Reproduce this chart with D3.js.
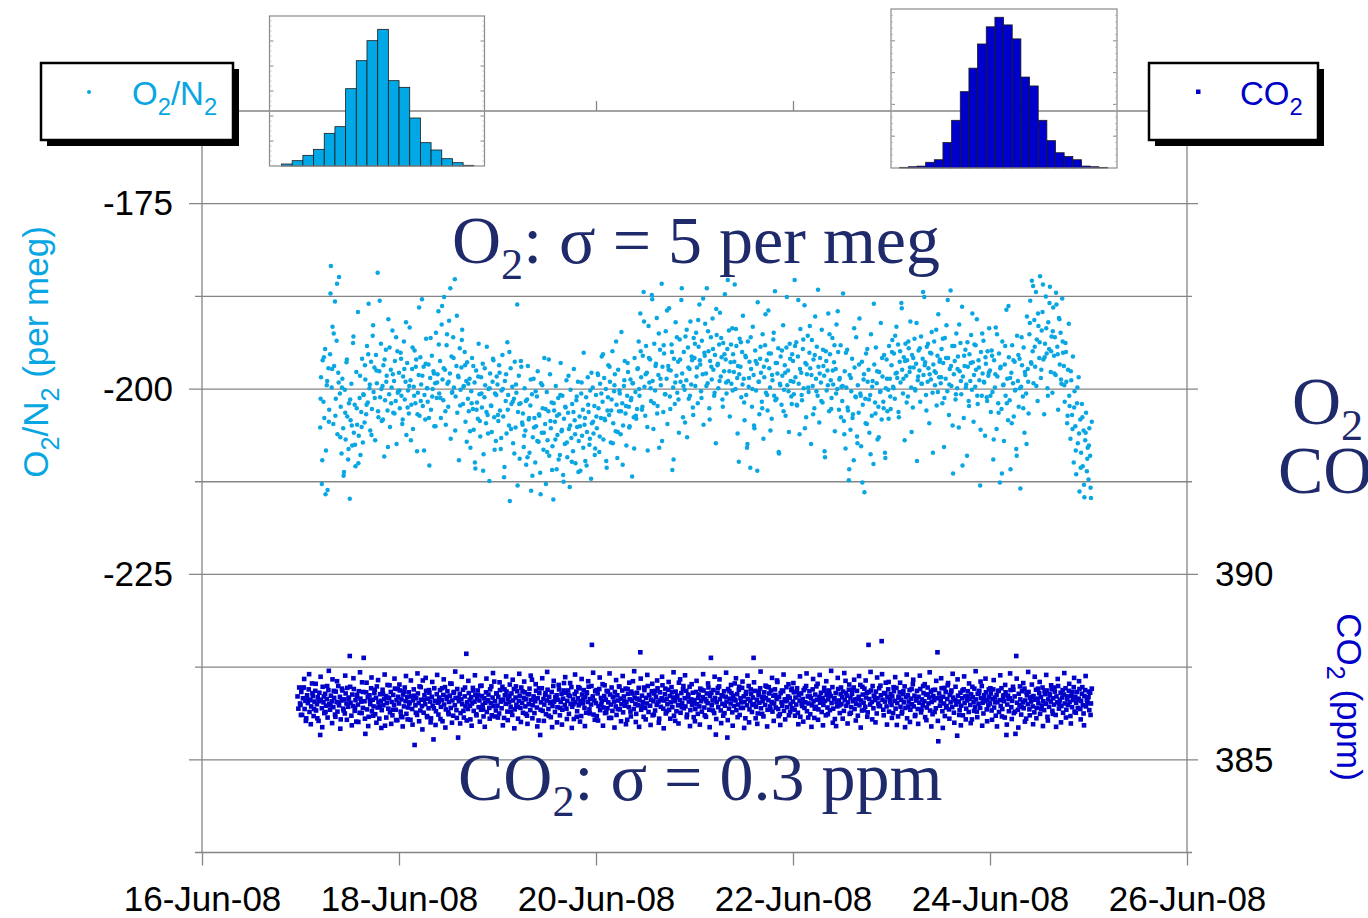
<!DOCTYPE html>
<html>
<head>
<meta charset="utf-8">
<script src="https://cdn.jsdelivr.net/npm/d3@7"></script>
<style>
  html, body { margin: 0; padding: 0; background: #fff; overflow: hidden; }
  svg { display: block; }
</style>
</head>
<body>
<div id="chart"></div>
<script>
// ---- data ----
// main samples every 12 min, extra samples every 24 min offset by 6 min
const o2Jun17 = [-205.2,-198.4,-212.8,-196.1,-201.7,-203.9,-194.6,-208.3,-199.5,-213.6,-197.2,-202.8,
  -195.3,-183.4,-199.8,-191.6,-204.7,-196.9,-188.2,-201.3,-193.5,-206.1,-197.8,-184.9,-200.6,
  -202.4,-208.7,-198.6,-205.3,-211.2,-200.1,-206.8,-196.4,-203.7,-209.5,-201.9,-214.8,-204.2,-199.3,-207.6,
  -193.8,-205.9,-202.1,-210.4,-197.7,-204.8,-189.6,-206.3,-201.2,-208.9,-203.1,-195.9,-207.2,-200.8,-204.5,
  -198.7,-203.4,-194.2,-201.8,-188.5,-199.9,-205.6,-196.3,-202.7,-192.8,-200.4,-197.1,-206.9,-195.4,-199.2,
  -184.3,-203.8,-197.6,-201.1,-193.9,-204.3,-199.6,-196.8,-209.1,-201.5,-194.7,-198.2,-202.9,-190.6,-200.7,
  -205.1,-197.4,-199.8,-192.1,-203.2,-198.9,-196.2,-201.6,-207.4,-194.9,-200.3];
const o2Jun18 = [-197.8,-202.6,-195.1,-200.9,-204.7,-198.3,-193.6,-201.4,-199.0,-206.2,-196.5,-200.2,
  -203.3,-191.7,-198.8,-202.1,-197.3,-205.4,-199.7,-194.8,-201.9,-196.0,-208.4,-200.5,-198.1,-203.6,-195.7,
  -199.4,-187.9,-202.3,-197.0,-200.8,-204.1,-193.2,-199.9,-201.7,-196.7,-210.3,-198.5,-202.8,-195.5,-200.0,
  -197.6,-205.0,-199.2,-192.4,-201.2,-198.0,
  -189.5,-200.6,-196.2,-203.9,-191.3,-198.7,-201.5,-187.6,-197.4,-204.8,-194.1,-199.3,-202.4,-190.8,-197.9,
  -206.7,-195.6,-200.4,-193.0,-199.8,-185.2,-201.0,-196.9,-203.2,-198.2,-209.6,-194.5,-200.1,-197.1,-192.0,
  -202.0,-199.6,-195.0,-204.4,-198.9,-196.4,-201.3,
  -203.0,-198.6,-207.9,-200.3,-195.8,-202.7,-205.5,-199.1,-210.7,-197.5,-201.8,-204.0,-193.9,-200.7,-206.4,
  -198.4,-202.5,-196.6,-208.8,-201.1,-199.5,-204.6,-194.3,-203.5,-200.0,-212.4,-197.9,-202.2,-205.8,-199.0,
  -196.1,-203.8,-200.6,-207.0,-198.3];
const o2Jun19 = [-199.4,-204.3,-196.8,-202.9,-208.1,-200.2,-195.4,-203.7,-211.9,-198.9,-201.6,-206.0,
  -193.7,-200.8,-204.9,-215.1,-197.2,-202.0,-199.7,-207.3,-201.3,-196.3,-205.2,-200.5,-188.6,-203.1,-198.2,
  -209.4,-201.9,-197.0,-204.5,
  -203.3,-207.8,-199.9,-205.6,-210.2,-201.4,-196.9,-204.1,-208.6,-202.2,-213.7,-200.7,-206.5,-198.6,-203.9,
  -209.9,-205.0,-201.0,-197.6,-207.1,-203.6,-211.3,-199.2,-205.9,-202.6,-208.2,-195.8,-204.7,-212.8,-200.4,
  -206.9,-203.0,-209.0,-198.0,-205.3,-201.8,-207.7,-214.9,-202.9,-204.4,-199.6,-210.8,-206.2,-201.2,-203.4,
  -208.9,-196.5,-205.7,-200.9,-211.6,-204.0,-207.4,-202.5,-198.8,-209.2,-203.2,-205.4,-213.2,-200.1,-206.6,
  -202.0,-208.4,-197.3,-204.2,-210.0,-201.5,-205.1,-199.0,-207.0,-203.7,-211.0,-200.6,-206.3,-202.8,-195.1,
  -204.8,-209.7,-201.1,-205.8,-198.4,-203.1,-207.5,-200.2,-212.1,-204.6,-199.8,-206.0,-202.3,-208.0];
const o2Jun20 = [-200.8,-205.3,-197.9,-202.6,-208.5,-199.3,-203.9,-195.6,-201.7,-206.8,-198.5,-204.2,
  -200.0,-210.6,-202.9,-196.8,-203.5,-199.0,-207.2,-201.4,-194.9,-204.6,-200.3,-198.0,-205.7,-202.1,-209.3,
  -197.4,-203.0,-200.6,-206.1,-192.3,-201.9,-204.9,-199.6,-196.2,-203.3,-207.6,-200.9,-197.7,-202.4,-205.0,
  -198.7,-201.2,-211.8,-199.2,-203.8,-195.8,-200.4,-204.0,-202.7,
  -197.2,-193.6,-200.9,-189.8,-198.4,-202.8,-195.5,-186.9,-199.7,-203.6,-194.2,-197.8,-208.3,-191.5,-199.1,
  -196.0,-201.6,-187.3,-198.9,-205.4,-193.9,-200.2,-196.6,-190.4,-202.3,-198.1,-207.9,-194.7,-199.5,-185.8,
  -197.0,-203.1,-195.2,-200.7,-192.2,-198.6,-204.7,-196.9,-189.1,-201.0,-197.5,-194.0,-210.9,-199.8,-195.9,
  -202.0,-191.0,-198.2,-200.5,-196.3,-205.9,-193.3,-199.0,-188.0,-197.9,-203.8,-195.0,-200.1,-192.9,-198.8,
  -206.5,-194.4,-201.3,-197.3,-190.9,-199.4,-196.1,-202.5,-193.1];
const o2Jun21 = [-195.8,-199.6,-192.4,-197.1,-201.9,-194.3,-188.6,-196.7,-200.3,-193.5,-198.0,-204.8,
  -195.1,-191.2,-197.9,-186.4,-199.2,-194.9,-202.6,-196.2,-193.0,-198.7,-190.5,-197.4,-200.9,-195.4,-207.3,
  -192.7,-196.8,-199.9,-194.0,-189.7,-198.3,-195.7,-201.4,-193.8,-197.6,-187.2,-196.0,-200.6,-194.6,-198.9,
  -192.1,-203.7,-196.4,-199.3,-191.8,-195.3,-197.7,-185.9,-200.0,-194.2,-198.5,-196.9,-209.8,-193.2,-197.0,
  -201.1,-195.0,-190.1,
  -198.6,-204.2,-195.5,-200.8,-207.9,-193.6,-199.7,-196.3,-210.6,-197.3,-202.4,-191.6,-198.1,-205.3,-194.8,
  -200.2,-196.6,-188.3,-199.0,-203.4,-195.9,-197.8,-201.7,-192.6,-206.7,-198.4,-194.1,-200.5,-196.1,-202.9,
  -189.4,-197.2,-199.8,-195.2,-204.0,-198.8,-193.3,-200.9,-186.8,-196.5,-201.3,-197.9,-194.5,-208.7,-199.3,
  -195.6,-202.1,-198.2,-191.4,-200.1,-196.8,-203.6,-194.4,-199.5,-197.5,-205.8,-193.9,-198.9,-201.0,-195.3];
const o2Jun22 = [-196.2,-200.7,-185.3,-198.4,-193.7,-202.2,-195.6,-199.3,-206.1,-191.9,-197.8,-201.5,
  -194.6,-199.9,-188.7,-196.5,-203.8,-198.0,-192.8,-200.4,-195.1,-197.2,-207.4,-193.4,-199.6,-196.0,-202.6,
  -190.2,-198.6,-194.3,-200.9,-197.0,-204.5,-195.8,-199.1,-192.0,-201.8,-196.9,-198.2,-209.2,-194.9,-200.2,
  -197.5,-189.8,-203.0,-195.3,-198.8,-201.2,-193.1,-199.4,-196.4,-205.7,-197.3,-191.3,-200.0,-195.0,-202.8,
  -198.5,-194.1,-199.7,
  -201.6,-187.1,-204.3,-197.6,-208.0,-199.8,-194.7,-202.9,-212.3,-198.1,-205.5,-200.3,-195.9,-203.4,-209.6,
  -197.1,-201.0,-193.0,-206.4,-199.5,-203.2,-190.5,-200.6,-207.7,-196.3,-202.1,-198.7,-213.9,-201.3,-195.2,
  -204.7,-199.0,-197.4,-205.9,-200.8,-192.6,-203.6,-198.9,-210.1,-196.7,-201.8,-194.4,-199.2,-206.8,-202.4,
  -197.7,-200.4,-191.1,-204.1,-198.3,-201.7,-195.4,-208.6,-199.9,-196.0,-203.0,-200.1,-194.2,-198.6,-202.7];
const o2Jun23 = [-196.8,-193.4,-199.7,-195.2,-201.3,-197.9,-191.6,-198.5,-194.0,-203.8,-196.3,-199.1,
  -188.4,-197.4,-200.6,-195.7,-206.9,-193.9,-198.2,-196.1,-201.0,-194.5,-197.7,-190.9,-199.8,-195.4,-202.5,
  -197.1,-193.2,-200.2,-196.6,-209.7,-198.8,-194.8,-197.5,-201.7,-192.9,-199.3,-195.9,-198.1,-187.6,-196.4,
  -200.8,-194.3,-199.0,-197.2,-204.6,-195.1,-198.7,-192.3,-200.5,-196.7,-193.6,-199.5,-197.8,-202.2,-195.5,
  -189.9,-198.4,-196.0,
  -199.2,-194.6,-201.9,-196.5,-207.8,-193.1,-198.6,-191.4,-200.3,-195.8,-203.5,-197.3,-186.7,-199.6,-194.2,
  -211.4,-198.0,-196.2,-201.4,-192.5,-199.9,-195.6,-205.2,-197.6,-193.8,-200.7,-188.9,-198.3,-203.9,-196.9,
  -194.7,-199.4,-209.0,-197.0,-201.6,-195.3,-198.9,-192.7,-200.1,-196.4,-204.4,-194.0,-199.7,-197.4,-190.6,
  -202.0,-196.1,-198.8,-213.0,-195.0,-200.9,-197.9,-193.5,-199.1,-206.3,-196.6,-201.1,-194.9,-198.2,-191.8];
const o2Jun24 = [-197.5,-203.1,-194.8,-200.4,-209.5,-196.1,-199.8,-191.7,-205.4,-198.3,-201.9,-195.2,
  -212.6,-197.0,-202.7,-193.6,-199.5,-207.0,-196.7,-200.9,-189.3,-198.6,-204.2,-195.7,-201.5,-210.8,-197.8,
  -194.1,-199.2,-203.7,-196.3,-200.1,-208.1,-192.8,-198.9,-202.4,-195.9,-213.4,-199.7,-196.8,-201.0,-194.4,
  -205.9,-198.1,-200.6,-190.2,-197.3,-203.3,
  -192.6,-188.1,-196.4,-185.4,-194.9,-199.2,-190.7,-197.0,-186.9,-193.3,-201.6,-191.5,-195.8,-184.8,-198.5,
  -192.1,-189.6,-196.0,-203.4,-193.9,-187.5,-195.2,-199.9,-191.0,-194.6,-186.2,-197.7,-192.9,-200.5,-189.0,
  -195.5,-193.0,-198.1,-188.6,-194.3,-202.8,-190.4,-196.7,-192.4,-199.3,-187.8,-195.1,
  -196.9,-201.7,-193.8,-199.0,-204.6,-197.4,-191.2,-202.3,-206.7,-198.8,-203.5,-195.6,-209.9,-200.3,-205.0,
  -211.5,-201.9,-207.3,-198.4,-213.8,-204.1,-208.6,-202.0,-210.4,-205.6,-214.6,-206.9,-203.2,-211.1,-207.9];
const o2Jun25 = [-212.2,-205.3,-209.0,-214.7,-204.4];

const o2Jun17b = [-201.3,-209.6,-195.7,-214.2,-198.9,-204.4,-187.1,-197.3,-192.5,-203.6,-185.8,-199.1,
  -206.5,-199.8,-211.7,-203.2,-196.0,-208.1,-201.4,-204.9,-192.9,-207.5,-202.6,-210.0,-198.2,-205.1,-200.7,-196.8,
  -202.1,-195.3,-199.4,-206.2,-191.4,-201.2,-197.5,-203.0,-188.1,-200.0,-204.1,-196.0,-199.0,-207.8,-194.4,
  -201.9,-198.0,-203.3,-193.0,-200.5];
const o2Jun18b = [-200.2,-195.9,-204.1,-197.3,-191.0,-202.5,-199.6,-206.9,-194.4,-200.9,-197.0,-203.4,
  -189.0,-201.6,-198.2,-208.3,-196.6,-199.9,-203.9,-193.1,-201.0,-197.9,-205.0,-199.1,
  -194.0,-201.2,-188.8,-197.2,-203.0,-192.6,-199.0,-186.4,-200.5,-195.8,-205.6,-190.1,-198.4,-202.2,-193.4,
  -199.7,-196.8,-207.1,
  -199.3,-205.7,-201.9,-196.9,-209.9,-202.8,-198.3,-204.3,-200.6,-211.0,-197.2,-203.1,-206.0,-199.9,-202.3,
  -195.9,-208.2,-200.8];
const o2Jun19b = [-203.5,-197.8,-206.6,-200.0,-210.5,-198.0,-202.8,-195.0,-205.4,-201.7,-208.7,-199.4,
  -213.0,-202.0,-196.2,-204.8,
  -206.3,-201.6,-209.2,-203.9,-198.7,-211.7,-205.2,-200.3,-207.0,-203.4,-214.2,-199.5,-205.9,-202.7,-208.5,
  -196.0,-204.3,-210.9,-201.9,-206.8,-203.6,-209.5,-200.8,-205.5,-212.5,-202.4,-207.2,-198.2,-204.9,-209.8,
  -203.1,-206.1,-201.0,-211.2,-205.0,-199.1,-207.9,-203.9,-210.3,-202.1,-206.7,-197.8,-204.4,-208.9];
const o2Jun20b = [-203.7,-198.1,-206.4,-200.6,-195.3,-204.0,-209.7,-201.1,-197.0,-202.9,-207.3,-199.5,
  -193.6,-205.8,-200.2,-203.0,-210.2,-198.8,-202.3,-196.5,-205.2,-201.5,-199.2,-208.0,-203.6,-197.3,
  -200.0,-194.9,-202.4,-190.9,-198.0,-205.1,-195.8,-199.9,-187.9,-201.9,-196.9,-203.3,-192.5,-198.6,-207.0,
  -194.1,-200.7,-189.4,-197.4,-202.7,-195.0,-209.5,-199.1,-193.0,-201.4,-196.0,-186.4,-199.6,-204.5,-192.0,
  -197.1,-200.9,-195.6,-203.5];
const o2Jun21b = [-193.9,-198.3,-190.7,-196.1,-201.2,-187.8,-195.5,-199.6,-192.2,-204.1,-197.0,-194.6,
  -200.5,-189.2,-196.6,-198.9,-193.1,-202.4,-195.3,-199.1,-185.3,-197.6,-194.0,-200.2,-196.3,-191.9,-206.0,
  -198.0,-193.7,-199.4,
  -201.8,-195.7,-207.4,-198.5,-193.0,-200.0,-204.9,-196.2,-211.0,-199.0,-194.3,-202.6,-197.0,-189.9,-200.8,
  -195.2,-205.6,-198.1,-192.4,-201.5,-196.5,-208.5,-199.5,-194.8,-203.0,-197.8,-187.6,-200.3,-195.9,-202.0];
const o2Jun22b = [-199.0,-194.2,-202.1,-188.0,-197.3,-200.8,-193.3,-205.3,-196.7,-199.8,-191.5,-198.1,
  -203.4,-195.4,-200.3,-186.6,-197.9,-201.6,-194.7,-208.4,-196.2,-199.5,-192.6,-202.7,-197.5,-194.1,-200.6,
  -189.5,-198.7,-203.8,
  -199.6,-206.1,-195.1,-202.5,-210.8,-198.5,-203.9,-191.8,-201.1,-207.3,-196.7,-200.9,-212.6,-198.0,-204.6,
  -194.6,-201.4,-208.8,-199.7,-188.5,-203.3,-197.6,-206.5,-200.3,-195.8,-202.6,-209.3,-198.6,-204.0,-201.0];
const o2Jun23b = [-195.0,-199.9,-192.8,-197.8,-203.1,-194.9,-189.1,-198.6,-196.2,-201.8,-193.6,-197.1,
  -205.8,-195.8,-200.0,-191.1,-198.3,-194.5,-199.3,-186.9,-196.8,-202.9,-193.9,-198.0,-195.2,-208.6,-197.6,
  -192.0,-200.4,-196.3,
  -198.4,-193.2,-201.2,-195.8,-188.0,-199.4,-196.9,-204.9,-194.2,-200.7,-197.3,-191.3,-198.9,-210.3,-195.5,
  -199.8,-193.7,-202.3,-196.5,-189.8,-198.1,-194.1,-200.9,-197.1,-205.5,-192.5,-199.0,-195.7,-201.6,-197.8];
const o2Jun24b = [-200.9,-195.5,-206.8,-198.0,-192.6,-203.2,-197.2,-211.4,-199.4,-194.2,-201.9,-188.8,
  -198.5,-204.6,-196.1,-200.2,-209.0,-195.4,-199.9,-193.0,-202.6,-197.7,-207.4,-199.0,
  -191.1,-196.6,-186.1,-194.3,-199.6,-189.8,-193.7,-197.4,-185.9,-195.7,-191.8,-200.9,-188.4,-194.9,-192.2,
  -197.9,-187.0,-195.3,-190.6,-198.7,-193.6,
  -199.5,-195.0,-203.6,-200.9,-197.6,-205.4,-202.5,-208.3,-199.8,-206.0,-210.6,-203.8,-212.9,-205.9,-209.4];
const o2Jun25b = [-207.6,-213.3];

const co2Jun16 = [386.71,386.38,386.95,386.52];
const co2Jun17 = [386.48,386.83,386.21,386.66,386.95,386.37,386.59,386.12,386.74,386.53,386.90,386.29,
  386.61,386.44,387.06,386.72,386.18,386.57,386.86,386.33,386.50,386.69,386.05,386.81,
  385.67,386.62,386.39,386.97,386.55,386.26,386.78,386.46,386.64,386.14,386.88,386.51,
  386.35,386.73,386.58,387.17,386.42,386.67,386.22,386.84,386.56,386.30,386.99,386.47,
  386.70,386.09,386.60,386.87,386.38,386.63,386.25,386.79,386.52,386.94,386.43,386.68,
  387.80,386.54,386.19,386.76,386.45,386.91,386.32,386.61,386.03,386.71,386.49,386.85,
  386.27,386.65,386.57,387.09,386.40,387.75,386.58,385.70,386.82,386.36,386.69,386.16,
  386.74,386.50,386.93,386.31,386.62,386.44,386.80,386.23,386.67,386.98,386.41,386.55,
  386.11,386.77,386.59,386.34,386.89,386.47,386.64,385.92,386.72,386.53,387.02,386.38,
  386.66,386.28,386.83,386.56,386.20,386.75,386.48,386.92,386.35,386.61,386.07,386.70];
const co2Jun18 = [386.52,386.87,386.30,386.63,386.15,386.76,386.44,386.95,386.58,386.24,386.69,386.41,
  386.82,386.55,386.08,386.71,386.37,386.60,386.90,385.40,386.47,386.66,386.21,386.79,
  386.53,386.98,386.33,386.62,386.45,387.14,386.27,386.74,386.50,386.86,386.18,386.65,
  386.39,386.81,386.57,386.12,386.70,386.46,385.55,386.93,386.59,386.31,386.77,386.54,
  386.22,386.68,386.88,386.43,386.61,386.04,386.75,386.49,386.96,386.36,386.64,386.85,
  386.28,386.56,386.73,386.40,387.05,386.60,386.19,386.83,386.47,386.67,386.34,386.91,
  385.60,386.58,386.78,386.26,386.63,386.50,386.89,386.14,386.71,386.44,387.86,386.55,
  386.37,386.80,386.62,386.09,386.69,386.52,386.94,386.32,386.57,386.75,386.23,386.65,
  386.87,386.42,386.60,386.99,386.35,386.72,386.48,386.17,386.66,386.54,386.82,386.29,
  386.61,386.76,386.40,386.90,386.53,386.20,386.68,386.45,387.11,386.58,386.33,386.79];
const co2Jun19 = [386.46,386.70,386.25,386.88,386.57,386.39,386.97,386.62,386.13,386.74,386.51,386.84,
  386.30,386.65,386.55,387.03,386.43,386.79,386.21,386.60,386.91,386.36,386.68,386.48,
  386.85,386.11,386.59,386.73,386.40,386.95,386.54,386.27,386.67,386.82,386.44,386.63,
  386.19,386.77,386.50,386.92,386.34,386.61,387.16,386.47,386.71,386.26,386.58,386.86,
  386.41,386.66,386.06,386.80,385.67,386.55,386.93,386.32,386.64,386.49,386.75,386.23,
  386.60,386.89,386.37,386.70,386.53,386.15,386.83,386.45,386.99,386.57,386.29,386.68,
  386.74,386.42,386.62,386.90,386.20,386.56,386.78,386.35,386.65,387.07,386.48,386.81,
  386.38,386.59,386.87,386.24,386.72,386.51,386.96,386.43,386.63,386.10,386.77,386.55,
  386.84,386.31,386.66,386.47,386.93,386.58,386.18,386.76,386.52,386.88,386.40,386.69,
  386.27,386.80,386.56,386.97,386.36,386.64,386.49,388.10,386.71,386.22,386.60,386.85];
const co2Jun20 = [386.53,386.18,386.79,386.45,386.91,386.34,386.67,386.58,387.04,386.41,386.72,386.26,
  386.62,386.86,386.39,386.55,386.13,386.76,386.49,386.95,386.32,386.69,386.57,386.83,
  386.44,386.21,386.74,386.60,386.98,386.36,386.65,386.50,386.87,386.28,386.71,386.46,
  386.92,386.55,386.08,386.78,386.42,386.63,386.30,386.84,386.59,387.12,386.37,386.68,
  386.51,386.24,386.81,386.47,386.94,386.61,387.90,386.35,386.73,386.56,386.16,386.88,
  386.40,386.67,386.52,386.99,386.29,386.75,386.46,386.62,386.85,386.20,386.58,386.79,
  386.33,386.70,386.48,386.93,386.57,386.11,386.82,386.43,386.66,387.01,386.38,386.60,
  386.77,386.25,386.64,386.50,386.89,386.35,386.72,386.55,386.96,386.42,386.68,386.19,
  386.58,386.84,386.31,386.73,386.47,387.08,386.61,386.27,386.80,386.53,386.90,386.39,
  386.66,386.44,386.86,386.22,386.70,386.57,386.97,386.34,386.63,386.48,386.81,386.15];
const co2Jun21 = [386.61,386.37,386.83,386.50,386.24,386.76,386.44,386.92,386.58,386.30,386.69,386.87,
  386.41,386.64,386.16,386.79,386.53,386.95,386.35,386.72,387.75,386.47,386.60,386.88,
  386.26,386.67,385.68,386.55,386.81,386.42,386.98,386.63,386.33,386.74,386.51,386.19,
  386.85,386.46,386.70,386.57,385.60,386.91,386.38,386.65,386.52,386.80,386.28,386.73,
  386.45,387.06,386.60,386.34,386.77,386.49,386.89,386.21,386.66,386.55,386.94,386.40,
  386.71,386.56,386.12,386.83,386.47,386.64,386.99,386.36,386.59,386.78,386.29,386.68,
  387.75,386.50,386.86,386.43,386.62,386.25,386.75,386.54,386.93,386.39,386.70,386.58,
  386.17,386.82,386.48,386.66,386.97,386.35,386.61,386.79,386.44,386.87,386.56,386.30,
  386.73,386.52,386.90,386.41,386.64,387.10,386.37,386.69,386.23,386.80,386.55,386.46,
  386.85,386.32,386.63,386.58,386.96,386.42,386.71,386.20,386.67,386.51,386.88,386.39];
const co2Jun22 = [386.57,386.82,386.35,386.68,386.49,386.93,386.27,386.74,386.60,386.16,386.79,386.45,
  386.64,386.88,386.40,386.55,386.99,386.31,386.71,386.52,386.85,386.23,386.66,386.47,
  386.90,386.58,386.13,386.76,386.43,386.62,387.05,386.36,386.70,386.54,386.81,386.29,
  386.67,386.48,386.94,386.59,386.20,386.75,386.41,386.63,386.87,386.34,386.72,386.53,
  386.96,386.38,386.65,386.10,386.80,386.56,386.44,386.91,386.60,386.26,386.77,386.50,
  386.69,386.84,386.32,386.61,387.13,386.46,386.73,386.55,386.89,386.24,386.67,386.42,
  386.78,386.58,386.95,386.37,386.63,386.51,386.86,386.19,386.70,386.47,387.02,386.60,
  386.33,386.76,386.54,386.92,386.43,386.68,386.81,386.28,388.10,386.64,386.49,386.87,
  386.56,386.99,386.39,386.72,386.61,386.84,386.25,386.66,386.52,386.93,386.45,386.74,
  388.20,386.62,386.35,386.80,386.57,387.08,386.44,386.69,386.90,386.30,386.63,386.77];
const co2Jun23 = [386.48,386.71,386.26,386.85,386.59,386.38,386.94,386.53,386.17,386.67,386.82,386.43,
  386.62,386.30,386.77,386.55,386.98,386.40,386.69,386.12,386.74,386.57,386.88,386.35,
  386.65,386.50,387.04,386.44,386.73,386.21,386.60,386.86,386.37,386.70,386.54,386.91,
  386.28,386.63,386.47,386.80,386.58,386.15,386.76,386.41,386.95,386.52,386.68,386.33,
  386.84,386.56,386.23,386.72,386.61,386.89,386.39,386.66,387.90,385.50,386.79,386.46,
  386.58,386.93,386.31,386.70,386.52,386.18,386.83,386.45,386.64,387.07,386.36,386.75,
  386.55,386.87,386.42,386.68,386.27,386.61,386.97,386.49,385.65,386.73,386.57,386.34,
  386.81,386.46,386.66,386.20,386.90,386.53,386.71,386.38,386.60,386.85,386.29,386.64,
  386.48,386.77,386.09,386.69,386.56,386.92,386.43,386.63,386.30,386.78,386.51,386.86,
  386.40,386.67,386.99,386.54,386.25,386.74,386.58,386.82,386.36,386.61,386.47,386.70];
const co2Jun24 = [386.52,386.79,386.33,386.64,386.90,386.41,386.68,386.19,386.75,386.56,386.86,386.29,
  386.61,386.45,386.93,386.37,386.70,386.58,386.14,386.82,385.67,386.49,386.73,386.31,
  386.66,386.88,386.42,386.59,386.97,386.26,386.71,385.70,387.80,386.54,386.35,386.78,
  386.47,386.63,386.22,386.85,386.55,386.39,386.92,386.60,386.11,386.74,386.50,386.83,
  386.36,386.67,386.57,387.03,386.44,386.72,386.28,386.62,386.89,386.40,386.65,386.53,
  386.80,386.24,386.69,386.46,386.95,386.58,386.34,386.77,386.51,386.87,386.16,386.63,
  386.43,386.74,386.57,386.90,386.32,386.66,386.49,386.84,386.21,386.71,386.55,386.99,
  386.38,386.62,386.81,386.45,386.68,386.27,386.76,386.52,386.93,386.35,386.64,386.48,
  386.86,386.56,386.18,386.73,386.42,386.61,386.96,386.30,386.70,386.54,386.83,386.40,
  386.65,386.91,386.37,386.59,386.78,386.47,386.25,386.72,386.88,386.44,386.62,386.53];
const co2Jun25 = [386.69,386.34,386.81,386.52,386.92];

const co2Jun17b = [386.21,386.94,387.18,386.05,386.63,387.31,385.96,386.80,386.37,387.05,386.12,386.58,
  387.24,385.88,386.71,386.29,386.99,387.40,386.47,385.99,386.86,386.16,387.12,386.54,385.84,386.92,
  386.33,387.27,386.08,386.65,386.97,385.93,387.20,386.41,386.75,386.02,387.36,386.26,386.83,386.11,
  387.08,385.91,386.60,387.22,386.19,386.89,386.00,387.15,386.44,385.86,386.78,387.30,386.14,386.68,
  387.01,385.97,386.35,387.19,386.07,386.91];
const co2Jun18b = [387.03,386.18,385.90,386.84,387.26,386.09,386.52,387.14,385.95,386.73,386.27,387.33,
  386.04,386.96,385.82,386.62,387.21,386.15,386.88,386.01,387.10,386.39,385.94,387.29,386.57,386.10,
  386.93,387.17,385.87,386.70,386.23,387.06,386.00,386.81,387.38,386.13,386.66,385.98,387.24,386.32,
  386.95,386.06,387.13,386.46,385.92,386.87,387.28,386.20,386.74,386.03,387.00,386.36,385.89,387.19,
  386.58,386.11,386.98,387.34,386.17,386.79];
const co2Jun19b = [386.14,387.09,386.61,385.93,386.90,387.25,386.07,386.72,386.30,387.16,385.85,386.98,
  386.43,387.32,386.02,386.85,387.11,386.24,385.97,386.77,387.27,386.12,386.64,387.04,385.90,386.93,
  386.35,387.20,386.05,386.80,387.37,386.19,386.56,385.88,387.13,386.69,386.01,387.02,386.40,385.95,
  386.87,387.23,386.10,386.75,387.07,385.86,386.50,387.30,386.16,386.96,386.03,387.18,386.63,385.91,
  386.82,387.12,386.25,386.99,387.35,386.08];
const co2Jun20b = [386.88,386.06,387.22,386.49,385.92,387.01,386.28,386.84,387.33,386.13,386.70,385.87,
  387.15,386.37,386.97,386.04,387.26,386.59,385.96,386.91,387.08,386.17,386.79,387.39,386.02,386.65,
  385.89,387.19,386.45,386.95,386.09,387.29,386.74,385.94,387.05,386.22,386.86,387.14,386.00,386.61,
  387.24,385.85,386.92,386.31,387.10,386.11,386.82,387.36,386.05,386.68,385.98,387.17,386.42,386.99,
  387.28,386.15,386.76,385.91,387.04,386.53];
const co2Jun21b = [386.04,387.13,386.67,385.95,386.89,387.31,386.20,386.58,387.06,385.88,386.81,386.33,
  387.24,386.10,386.94,387.17,385.99,386.72,386.26,387.35,386.07,386.85,387.02,385.92,386.63,387.20,
  386.15,386.97,386.40,387.11,385.86,386.78,387.27,386.01,386.90,386.48,387.09,386.12,385.97,386.83,
  387.38,386.24,386.69,387.00,385.90,386.96,386.36,387.21,386.05,386.75,387.14,386.18,385.94,386.87,
  387.30,386.09,386.62,387.04,386.29,386.92];
const co2Jun22b = [387.07,386.19,386.84,385.96,387.25,386.52,386.03,386.93,387.33,386.14,386.71,385.89,
  387.18,386.38,386.98,386.08,387.29,386.60,385.93,386.86,387.12,386.23,386.77,387.40,386.00,386.66,
  385.91,387.21,386.47,386.95,386.11,387.34,386.80,385.98,387.03,386.27,386.89,387.16,386.06,386.64,
  387.26,385.87,386.97,386.34,387.14,386.16,386.83,387.37,386.09,386.73,386.01,387.22,386.45,387.00,
  387.31,386.20,386.79,385.95,387.10,386.57];
const co2Jun23b = [386.13,386.96,387.23,385.94,386.70,387.08,386.25,386.85,385.88,387.30,386.44,386.02,
  386.91,387.16,386.18,386.63,385.97,387.27,386.36,386.99,387.04,386.07,386.76,387.36,385.90,386.88,
  386.29,387.13,386.05,386.67,387.20,385.86,386.94,386.41,387.01,386.11,386.82,387.32,386.00,386.59,
  387.17,386.21,385.93,386.87,387.25,386.09,386.72,387.06,385.99,386.97,386.32,387.39,386.15,386.80,
  387.11,385.92,386.65,387.19,386.04,386.90];
const co2Jun24b = [386.93,386.08,387.15,386.55,385.90,386.86,387.28,386.17,386.74,387.02,385.95,386.64,
  387.33,386.10,386.89,386.30,387.19,385.87,386.98,386.43,387.07,386.03,386.81,387.37,386.20,386.69,
  385.96,387.24,386.12,386.92,387.10,386.37,385.91,386.85,387.29,386.06,386.77,387.01,386.24,386.95,
  385.89,387.18,386.50,386.01,386.88,387.34,386.14,386.71,387.05,385.98,386.83,387.21,386.27,386.62,
  387.12,386.09,386.96,385.93,387.26,386.58];
const co2Jun25b = [386.84,386.21];

// [first sample time, minutes between samples, values]
const o2Blocks = [
  ['2008-06-17 04:48', 12, o2Jun17], ['2008-06-18 00:00', 12, o2Jun18], ['2008-06-19 00:00', 12, o2Jun19],
  ['2008-06-20 00:00', 12, o2Jun20], ['2008-06-21 00:00', 12, o2Jun21], ['2008-06-22 00:00', 12, o2Jun22],
  ['2008-06-23 00:00', 12, o2Jun23], ['2008-06-24 00:00', 12, o2Jun24], ['2008-06-25 00:00', 12, o2Jun25],
  ['2008-06-17 04:54', 24, o2Jun17b], ['2008-06-18 00:06', 24, o2Jun18b], ['2008-06-19 00:06', 24, o2Jun19b],
  ['2008-06-20 00:06', 24, o2Jun20b], ['2008-06-21 00:06', 24, o2Jun21b], ['2008-06-22 00:06', 24, o2Jun22b],
  ['2008-06-23 00:06', 24, o2Jun23b], ['2008-06-24 00:06', 24, o2Jun24b], ['2008-06-25 00:06', 24, o2Jun25b]
];
const co2Blocks = [
  ['2008-06-16 23:17', 12, co2Jun16], ['2008-06-17 00:00', 12, co2Jun17], ['2008-06-18 00:00', 12, co2Jun18],
  ['2008-06-19 00:00', 12, co2Jun19], ['2008-06-20 00:00', 12, co2Jun20], ['2008-06-21 00:00', 12, co2Jun21],
  ['2008-06-22 00:00', 12, co2Jun22], ['2008-06-23 00:00', 12, co2Jun23], ['2008-06-24 00:00', 12, co2Jun24],
  ['2008-06-25 00:00', 12, co2Jun25],
  ['2008-06-17 00:06', 24, co2Jun17b], ['2008-06-18 00:06', 24, co2Jun18b], ['2008-06-19 00:06', 24, co2Jun19b],
  ['2008-06-20 00:06', 24, co2Jun20b], ['2008-06-21 00:06', 24, co2Jun21b], ['2008-06-22 00:06', 24, co2Jun22b],
  ['2008-06-23 00:06', 24, co2Jun23b], ['2008-06-24 00:06', 24, co2Jun24b], ['2008-06-25 00:06', 24, co2Jun25b]
];

// histogram insets: bin lower edges and counts
const o2BinLow = [-218,-216,-214,-212,-210,-208,-206,-204,-202,-200,-198,-196,-194,-192,-190,-188,-186,-184];
const o2BinCount = [3,8,16,25,49,59,116,158,188,205,128,118,72,35,24,11,5,1];
const co2BinLow = [385.4,385.5,385.6,385.7,385.8,385.9,386.0,386.1,386.2,386.3,386.4,386.5,
  386.6,386.7,386.8,386.9,387.0,387.1,387.2,387.3,387.4,387.5,387.6,387.7];
const co2BinCount = [1,2,3,9,13,40,75,120,157,195,222,237,225,203,143,129,75,43,24,18,13,3,2,1];

const dateTicks = ['2008-06-16','2008-06-18','2008-06-20','2008-06-22','2008-06-24','2008-06-26'];
const o2Labels = [-225, -200, -175];
const co2Labels = [385, 390];
const gridMajor = [-250, -225, -200, -175];
const gridMinor = [-262.5, -237.5, -212.5, -187.5];

// ---- drawing ----
const W = 1368, H = 918;
const o2Color = '#08a6e2';
const co2Color = '#0000c8';
const navy = '#1f2a6b';
const axisGray = '#858585';
const sans = '"Liberation Sans", Arial, sans-serif';
const serif = '"Liberation Serif", "Times New Roman", serif';

const parseTime = d3.utcParse('%Y-%m-%d %H:%M');
const parseDay = d3.utcParse('%Y-%m-%d');

function toPoints(blocks) {
  return blocks.flatMap(([start, minutes, values]) => {
    const t0 = parseTime(start).getTime();
    return values.map((v, i) => ({ t: new Date(t0 + i * minutes * 60000), v }));
  });
}
const o2Points = toPoints(o2Blocks);
const co2Points = toPoints(co2Blocks);

const plot = { left: 202, right: 1187, top: 111, bottom: 852.5 };

const x = d3.scaleUtc()
  .domain([parseDay(dateTicks[0]), parseDay(dateTicks[dateTicks.length - 1])])
  .range([plot.left, plot.right]);
const yO2 = d3.scaleLinear().domain([-262.5, -162.5]).range([plot.bottom, plot.top]);
const yCO2 = d3.scaleLinear().domain([382.5, 402.5]).range([plot.bottom, plot.top]);

const svg = d3.select('#chart').append('svg')
  .attr('width', W).attr('height', H)
  .style('font-family', sans);

// gridlines and frame
const grid = svg.append('g').attr('stroke', axisGray).attr('stroke-width', 1.3);
grid.selectAll('line.major').data(gridMajor).join('line')
  .attr('class', 'major')
  .attr('x1', plot.left - 13).attr('x2', plot.right + 11)
  .attr('y1', d => yO2(d)).attr('y2', d => yO2(d));
grid.selectAll('line.minor').data(gridMinor).join('line')
  .attr('class', 'minor')
  .attr('x1', plot.left - 7).attr('x2', plot.right + 5)
  .attr('y1', d => yO2(d)).attr('y2', d => yO2(d));
grid.append('line')
  .attr('x1', plot.left - 13).attr('x2', plot.right + 11)
  .attr('y1', plot.top).attr('y2', plot.top);
grid.append('line').attr('x1', plot.left).attr('x2', plot.left)
  .attr('y1', plot.top).attr('y2', plot.bottom);
grid.append('line').attr('x1', plot.right).attr('x2', plot.right)
  .attr('y1', plot.top).attr('y2', plot.bottom);

// bottom date axis
const xAxis = d3.axisBottom(x)
  .tickValues(dateTicks.map(parseDay))
  .tickFormat(d3.utcFormat('%d-%b-%y'))
  .tickSize(13).tickPadding(21);
const gx = svg.append('g').attr('transform', `translate(0,${plot.bottom})`).call(xAxis);
gx.select('.domain').remove();
gx.selectAll('line').attr('stroke', axisGray).attr('stroke-width', 1.3);
gx.selectAll('text').attr('font-size', 35).attr('font-family', sans).attr('fill', '#000');

// top border ticks
const gxTop = svg.append('g').attr('transform', `translate(0,${plot.top})`)
  .call(d3.axisTop(x).tickValues(dateTicks.map(parseDay)).tickSize(10).tickFormat(''));
gxTop.select('.domain').remove();
gxTop.selectAll('line').attr('stroke', axisGray).attr('stroke-width', 1.3);

// left O2 labels (plain hyphen for the minus sign)
const gyl = svg.append('g').attr('transform', `translate(${plot.left},0)`)
  .call(d3.axisLeft(yO2).tickValues(o2Labels).tickFormat(d => String(d)).tickSize(0).tickPadding(29));
gyl.select('.domain').remove();
gyl.selectAll('text').attr('font-size', 35).attr('font-family', sans).attr('fill', '#000');

// right CO2 labels
const gyr = svg.append('g').attr('transform', `translate(${plot.right},0)`)
  .call(d3.axisRight(yCO2).tickValues(co2Labels).tickSize(0).tickPadding(28));
gyr.select('.domain').remove();
gyr.selectAll('text').attr('font-size', 35).attr('font-family', sans).attr('fill', '#000');

// scatter
svg.append('g').selectAll('circle').data(o2Points).join('circle')
  .attr('cx', d => x(d.t)).attr('cy', d => yO2(d.v))
  .attr('r', 2.25).attr('fill', o2Color);

svg.append('g').selectAll('rect').data(co2Points).join('rect')
  .attr('x', d => x(d.t) - 2.3).attr('y', d => yCO2(d.v) - 2.3)
  .attr('width', 4.6).attr('height', 4.6).attr('fill', co2Color);

// text with subscripts
function subText(g, xPos, yPos, size, parts, color, opts) {
  const o = Object.assign({ anchor: 'start', subScale: 0.65, shift: 0.24 }, opts || {});
  const t = g.append('text').attr('x', xPos).attr('y', yPos)
    .attr('font-size', size).attr('fill', color)
    .attr('text-anchor', o.anchor);
  parts.forEach(p => {
    const s = t.append('tspan').text(p.text);
    if (p.sub) s.attr('font-size', size * o.subScale).attr('dy', size * o.shift);
    if (p.after) s.attr('dy', -size * o.shift);
  });
  return t;
}
const sansSub = { subScale: 0.72, shift: 0.3 };

// sigma annotations
const notes = svg.append('g').attr('font-family', serif);
subText(notes, 452, 263, 68, [{ text: 'O' }, { text: '2', sub: true }, { text: ': σ = 5 per meg', after: true }], navy);
subText(notes, 458, 800, 68, [{ text: 'CO' }, { text: '2', sub: true }, { text: ': σ = 0.3 ppm', after: true }], navy);
subText(notes, 1292, 424, 68, [{ text: 'O' }, { text: '2', sub: true }, { text: ':', after: true }], navy);
subText(notes, 1278, 493, 68, [{ text: 'CO' }, { text: '2', sub: true }, { text: ':', after: true }], navy);

// axis titles
const lt = svg.append('g').attr('transform', 'translate(48,352) rotate(-90)');
subText(lt, 0, 0, 35, [{ text: 'O' }, { text: '2', sub: true }, { text: '/N', after: true },
  { text: '2', sub: true }, { text: ' (per meg)', after: true }], o2Color, Object.assign({ anchor: 'middle' }, sansSub));
const rt = svg.append('g').attr('transform', 'translate(1337,697) rotate(90)');
subText(rt, 0, 0, 35, [{ text: 'CO' }, { text: '2', sub: true }, { text: ' (ppm)', after: true }],
  co2Color, Object.assign({ anchor: 'middle' }, sansSub));

// histogram insets
function histogram(box, binLow, binWidth, counts, maxCount, nTicks, fill) {
  const hx = d3.scaleLinear()
    .domain([binLow[0] - box.padL * binWidth, binLow[binLow.length - 1] + binWidth + box.padR * binWidth])
    .range([box.x, box.x + box.w]);
  const hy = d3.scaleLinear().domain([0, maxCount]).range([box.y + box.h, box.y]);
  const g = svg.append('g');
  g.selectAll('rect').data(counts).join('rect')
    .attr('x', (d, i) => hx(binLow[i]))
    .attr('width', (d, i) => hx(binLow[i] + binWidth) - hx(binLow[i]))
    .attr('y', d => hy(d)).attr('height', d => hy(0) - hy(d))
    .attr('fill', fill).attr('stroke', '#1a1a1a').attr('stroke-width', 0.8);
  g.append('rect').attr('x', box.x).attr('y', box.y).attr('width', box.w).attr('height', box.h)
    .attr('fill', 'none').attr('stroke', '#8a8a8a').attr('stroke-width', 1.2);
  const major = d3.range(1, nTicks).map(i => maxCount * i / nTicks);
  const minor = d3.range(1, nTicks * 5).map(i => maxCount * i / (nTicks * 5));
  [[box.x, 1], [box.x + box.w, -1]].forEach(([ex, dir]) => {
    g.selectAll(null).data(major).join('line')
      .attr('x1', ex).attr('x2', ex + dir * 4)
      .attr('y1', d => hy(d)).attr('y2', d => hy(d))
      .attr('stroke', '#8a8a8a').attr('stroke-width', 1);
    g.selectAll(null).data(minor).join('line')
      .attr('x1', ex).attr('x2', ex + dir * 2)
      .attr('y1', d => hy(d)).attr('y2', d => hy(d))
      .attr('stroke', '#b0b0b0').attr('stroke-width', 0.8);
  });
}
histogram({ x: 269.5, y: 16, w: 215, h: 150, padL: 1.125, padR: 1.0 }, o2BinLow, 2, o2BinCount, 225, 6, '#00a8e6');
histogram({ x: 891, y: 9, w: 226, h: 159, padL: 1.0, padR: 1.1 }, co2BinLow, 0.1, co2BinCount, 250, 5, '#0000cc');

// legends
function legend(bx, by, bw, bh, marker, parts, color) {
  const g = svg.append('g');
  g.append('rect').attr('x', bx + 6).attr('y', by + 6).attr('width', bw).attr('height', bh).attr('fill', '#000');
  g.append('rect').attr('x', bx).attr('y', by).attr('width', bw).attr('height', bh)
    .attr('fill', '#fff').attr('stroke', '#000').attr('stroke-width', 2.5);
  marker(g);
  subText(g, bx + 91, by + 42, 33, parts, color, sansSub);
}
legend(41, 63, 192, 77,
  g => g.append('circle').attr('cx', 89).attr('cy', 92).attr('r', 2).attr('fill', o2Color),
  [{ text: 'O' }, { text: '2', sub: true }, { text: '/N', after: true }, { text: '2', sub: true }], o2Color);
legend(1149, 63, 169, 77,
  g => g.append('rect').attr('x', 1196).attr('y', 89.5).attr('width', 4.5).attr('height', 4.5).attr('fill', co2Color),
  [{ text: 'CO' }, { text: '2', sub: true }], co2Color);
</script>
</body>
</html>
